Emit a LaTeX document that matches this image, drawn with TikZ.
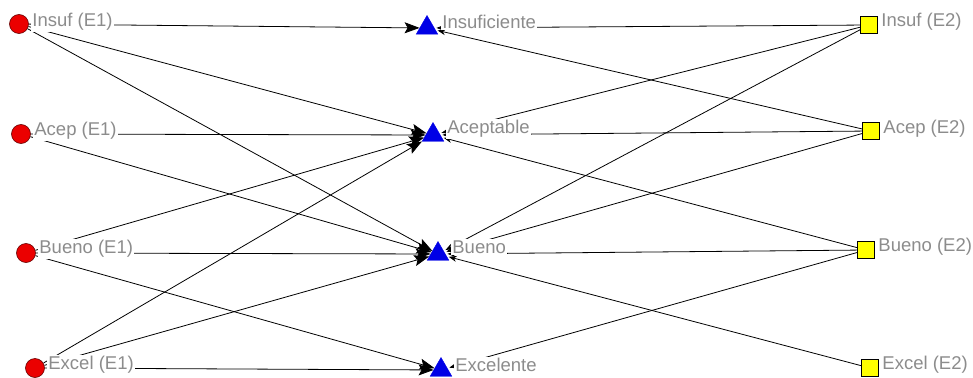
\documentclass[tikz,border=0pt]{standalone}
\usepackage{fontspec}
\setmainfont{Liberation Sans}
\usetikzlibrary{shapes.geometric,arrows.meta}
\definecolor{lblgray}{RGB}{140,140,140}
\definecolor{nodered}{RGB}{235,0,0}
\definecolor{nodeblue}{RGB}{0,0,230}
\definecolor{nodeyellow}{RGB}{255,255,0}
\begin{document}
\begin{tikzpicture}[x=1pt,y=-1pt,
  circ/.style={circle,fill=nodered,draw=black!60!red,line width=0.6pt,minimum size=19pt,inner sep=0pt},
  tri/.style={regular polygon,regular polygon sides=3,fill=nodeblue,draw=nodeblue,minimum size=25pt,inner sep=0pt},
  sq/.style={rectangle,fill=nodeyellow,draw=black,line width=0.7pt,minimum size=17pt,inner sep=0pt},
  lbl/.style={anchor=west,fill=white,inner sep=1.2pt,text=lblgray,font=\fontsize{18.5}{19}\selectfont},
  inl/.style={-{Stealth[length=15pt,width=11pt,inset=3pt]},line width=0.8pt,shorten >=0pt},
  inr/.style={-{Stealth[length=8pt,width=6pt]},line width=0.8pt,shorten >=2pt},
]
\useasboundingbox (0,0) rectangle (973,377);
\clip (0,0) rectangle (973,377);
% nodes
\node[circ] (L1) at (19,24) {};
\node[circ] (L2) at (21,134) {};
\node[circ] (L3) at (26,253) {};
\node[circ] (L4) at (35,368) {};
\node[tri] (M1) at (427,28) {};
\node[tri] (M2) at (433,135) {};
\node[tri] (M3) at (438,254) {};
\node[tri] (M4) at (441,370) {};
\node[sq] (R1) at (869,25) {};
\node[sq] (R2) at (871,131) {};
\node[sq] (R3) at (866,250) {};
\node[sq] (R4) at (870,368) {};
% edges from left
\draw[inl] (L1) -- (M1);
\draw[inl] (L1) -- (M2);
\draw[inl] (L1) -- (M3);
\draw[inl] (L2) -- (M2);
\draw[inl] (L2) -- (M3);
\draw[inl] (L3) -- (M2);
\draw[inl] (L3) -- (M3);
\draw[inl] (L3) -- (M4);
\draw[inl] (L4) -- (M2);
\draw[inl] (L4) -- (M3);
\draw[inl] (L4) -- (M4);
% edges from right
\draw[inr] (R1) -- (M1);
\draw[inr] (R1) -- (M2);
\draw[inr] (R1) -- (M3);
\draw[inr] (R2) -- (M1);
\draw[inr] (R2) -- (M2);
\draw[inr] (R2) -- (M3);
\draw[inr] (R3) -- (M2);
\draw[inr] (R3) -- (M3);
\draw[inr] (R3) -- (M4);
\draw[inr] (R4) -- (M3);
% labels
\node[lbl] (tL1) at (31,22) {Insuf (E1)};
\node[lbl] (tL2) at (33,131) {Acep (E1)};
\node[lbl] (tL3) at (38,249) {Bueno (E1)};
\node[lbl] (tL4) at (47,365) {Excel (E1)};
\node[lbl] (tM1) at (441,22) {Insuficiente};
\node[lbl] (tM2) at (446,129) {Aceptable};
\node[lbl] (tM3) at (451,247) {Bueno};
\node[lbl] (tM4) at (454,365) {Excelente};
\node[lbl] (tR1) at (880,22) {Insuf (E2)};
\node[lbl] (tR2) at (882,129) {Acep (E2)};
\node[lbl] (tR3) at (877,247) {Bueno (E2)};
\node[lbl] (tR4) at (881,365) {Excel (E2)};
\end{tikzpicture}
\end{document}
